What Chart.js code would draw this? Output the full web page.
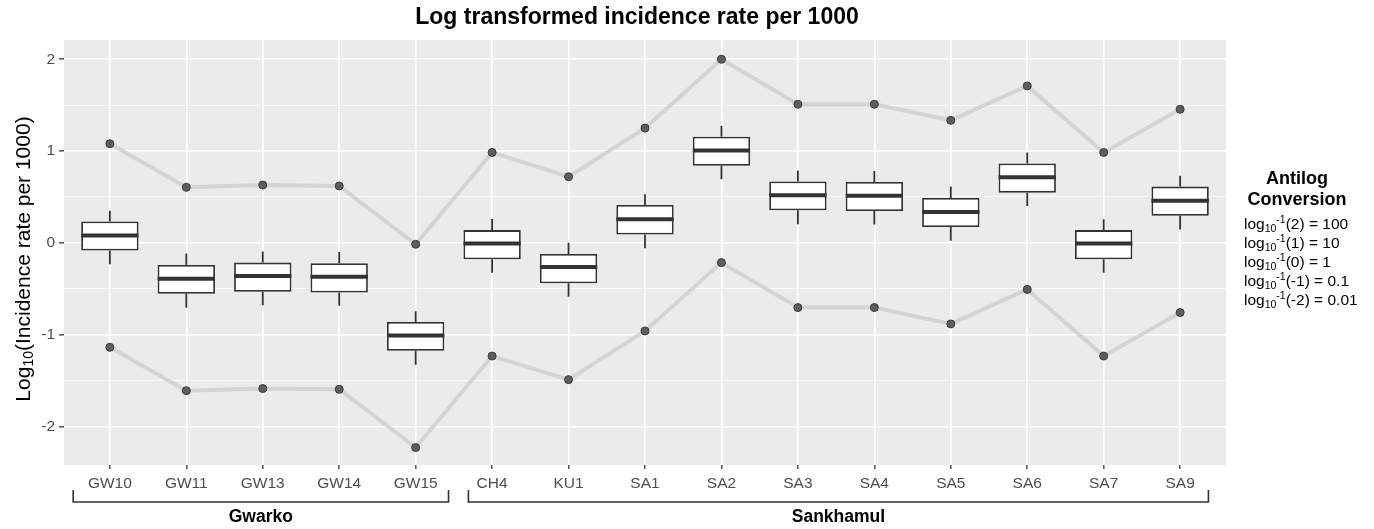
<!DOCTYPE html>
<html>
<head>
<meta charset="utf-8">
<script src="https://cdn.jsdelivr.net/npm/chart.js@4.4.0/dist/chart.umd.min.js"></script>
<style>
  body { margin: 0; background: #fff; }
  #wrap { width: 1374px; height: 529px; position: relative; }
</style>
</head>
<body>
<div id="wrap"><canvas id="boxChart"></canvas></div>
<script>
const cats = ['GW10', 'GW11', 'GW13', 'GW14', 'GW15', 'CH4', 'KU1', 'SA1', 'SA2', 'SA3', 'SA4', 'SA5', 'SA6', 'SA7', 'SA9'];

// grey lines with points (upper / lower)
const upperLine = [1.08, 0.605, 0.63, 0.62, -0.015, 0.985, 0.72, 1.25, 2.0, 1.51, 1.51, 1.335, 1.71, 0.985, 1.455];
const lowerLine = [-1.138, -1.61, -1.587, -1.595, -2.23, -1.233, -1.49, -0.96, -0.215, -0.705, -0.705, -0.883, -0.507, -1.233, -0.759];

// boxplot stats
const whiskerHigh = [0.35, -0.117, -0.095, -0.10, -0.744, 0.259, 0.0, 0.529, 1.277, 0.788, 0.784, 0.613, 0.985, 0.256, 0.73];
const q3 = [0.233, -0.24, -0.215, -0.222, -0.861, 0.139, -0.12, 0.412, 1.157, 0.668, 0.664, 0.489, 0.865, 0.139, 0.613];
const median = [0.08, -0.39, -0.361, -0.369, -1.01, -0.007, -0.263, 0.256, 1.007, 0.518, 0.514, 0.336, 0.715, -0.007, 0.46];
const q1 = [-0.084, -0.555, -0.533, -0.54, -1.175, -0.178, -0.44, 0.091, 0.839, 0.354, 0.347, 0.172, 0.547, -0.178, 0.296];
const whiskerLow = [-0.233, -0.708, -0.679, -0.686, -1.328, -0.325, -0.587, -0.058, 0.693, 0.204, 0.2, 0.022, 0.401, -0.325, 0.146];

const yTicks = [-2, -1.5, -1, -0.5, 0, 0.5, 1, 1.5, 2];

const groupNames = ['Gwarko', 'Sankhamul'];
const groupFrom = [-0.48, 4.69];
const groupTo = [4.43, 14.37];

const antilogExp = ['2', '1', '0', '-1', '-2'];
const antilogVal = ['100', '10', '1', '0.1', '0.01'];

const titleText = 'Log transformed incidence rate per 1000';

const FONT = '"Liberation Sans", Arial, sans-serif';

function drawRich(ctx, parts, x, y) {
    // parts drawn left to right from x, vertically around y
    let cx = x;
    for (const p of parts) {
        ctx.font = (p.bold ? 'bold ' : '') + p.size + 'px ' + FONT;
        ctx.fillText(p.t, cx, y + (p.dy || 0));
        cx += ctx.measureText(p.t).width;
    }
}

function richWidth(ctx, parts) {
    let w = 0;
    for (const p of parts) {
        ctx.font = (p.bold ? 'bold ' : '') + p.size + 'px ' + FONT;
        w += ctx.measureText(p.t).width;
    }
    return w;
}

const panelBg = {
    id: 'panelBg',
    beforeDraw(chart) {
        const { ctx, chartArea } = chart;
        ctx.save();
        ctx.fillStyle = '#EBEBEB';
        ctx.fillRect(chartArea.left, chartArea.top, chartArea.right - chartArea.left, chartArea.bottom - chartArea.top);
        ctx.restore();
    }
};

const boxParts = {
    id: 'boxParts',
    afterDatasetsDraw(chart) {
        const ctx = chart.ctx;
        const xs = chart.scales.x;
        const ys = chart.scales.y;
        const bars = chart.getDatasetMeta(0).data;
        ctx.save();
        ctx.strokeStyle = '#333333';
        for (let i = 0; i < cats.length; i++) {
            const x = xs.getPixelForValue(i);
            const half = bars[i].width / 2;
            ctx.lineWidth = 1.8;
            ctx.beginPath();
            ctx.moveTo(x, ys.getPixelForValue(whiskerHigh[i]));
            ctx.lineTo(x, ys.getPixelForValue(q3[i]));
            ctx.moveTo(x, ys.getPixelForValue(q1[i]));
            ctx.lineTo(x, ys.getPixelForValue(whiskerLow[i]));
            ctx.stroke();
            ctx.lineWidth = 4;
            ctx.beginPath();
            const my = ys.getPixelForValue(median[i]);
            ctx.moveTo(x - half, my);
            ctx.lineTo(x + half, my);
            ctx.stroke();
        }
        ctx.restore();
    }
};

const extras = {
    id: 'extras',
    afterDraw(chart) {
        const ctx = chart.ctx;
        const area = chart.chartArea;
        const xs = chart.scales.x;
        ctx.save();

        // title
        ctx.fillStyle = '#000';
        ctx.textBaseline = 'middle';
        ctx.textAlign = 'center';
        ctx.font = 'bold 23px ' + FONT;
        ctx.fillText(titleText, 637, 18);

        // y axis title with subscript
        ctx.textAlign = 'left';
        const yTitle = [
            { t: 'Log', size: 21 },
            { t: '10', size: 14, dy: 5 },
            { t: '(Incidence rate per 1000)', size: 21 }
        ];
        ctx.translate(24, 259);
        ctx.rotate(-Math.PI / 2);
        drawRich(ctx, yTitle, -richWidth(ctx, yTitle) / 2, 0);
        ctx.setTransform(1, 0, 0, 1, 0, 0);

        // group brackets
        ctx.strokeStyle = '#333';
        ctx.lineWidth = 1.6;
        const bTop = area.bottom + 25, bBot = area.bottom + 37;
        ctx.textAlign = 'center';
        for (let g = 0; g < groupNames.length; g++) {
            const x0 = xs.getPixelForValue(groupFrom[g]);
            const x1 = xs.getPixelForValue(groupTo[g]);
            ctx.beginPath();
            ctx.moveTo(x0, bTop);
            ctx.lineTo(x0, bBot);
            ctx.lineTo(x1, bBot);
            ctx.lineTo(x1, bTop);
            ctx.stroke();
            ctx.font = 'bold 17.5px ' + FONT;
            ctx.fillText(groupNames[g], (x0 + x1) / 2, area.bottom + 52);
        }

        // antilog note on the right
        const cx = area.right + 71;
        ctx.font = 'bold 18px ' + FONT;
        ctx.fillText('Antilog', cx, 179);
        ctx.fillText('Conversion', cx, 200);
        ctx.textAlign = 'left';
        for (let k = 0; k < antilogExp.length; k++) {
            const parts = [
                { t: 'log', size: 15.5 },
                { t: '10', size: 10.5, dy: 4 },
                { t: '-1', size: 10.5, dy: -5 },
                { t: '(' + antilogExp[k] + ') = ' + antilogVal[k], size: 15.5 }
            ];
            drawRich(ctx, parts, area.right + 18, 225 + k * 19);
        }
        ctx.restore();
    }
};

const ctx = document.getElementById('boxChart').getContext('2d');
const chart = new Chart(ctx, {
    type: 'bar',
    data: {
        datasets: [{
            type: 'bar',
            label: 'box',
            data: cats.map((c, i) => ({ x: i, y: [q1[i], q3[i]] })),
            backgroundColor: '#FFFFFF',
            borderColor: '#333333',
            borderWidth: 1.8,
            borderSkipped: false,
            barPercentage: 0.75,
            categoryPercentage: 1,
            order: 0
        }, {
            type: 'line',
            label: 'upper',
            data: cats.map((c, i) => ({ x: i, y: upperLine[i] })),
            borderColor: '#D4D4D4',
            borderWidth: 4,
            pointRadius: 4,
            pointBackgroundColor: '#5E5E5E',
            pointBorderColor: '#3A3A3A',
            pointBorderWidth: 1,
            order: 1
        }, {
            type: 'line',
            label: 'lower',
            data: cats.map((c, i) => ({ x: i, y: lowerLine[i] })),
            borderColor: '#D4D4D4',
            borderWidth: 4,
            pointRadius: 4,
            pointBackgroundColor: '#5E5E5E',
            pointBorderColor: '#3A3A3A',
            pointBorderWidth: 1,
            order: 1
        }]
    },
    options: {
        responsive: true,
        maintainAspectRatio: false,
        animation: false,
        layout: {
            padding: { left: 0, right: 148, top: 40, bottom: 0 }
        },
        plugins: {
            legend: { display: false },
            tooltip: { enabled: false },
            title: { display: false }
        },
        scales: {
            x: {
                type: 'linear',
                min: -0.6,
                max: 14.6,
                offset: false,
                afterBuildTicks: scale => { scale.ticks = cats.map((c, i) => ({ value: i })); },
                afterFit: scale => { scale.height = 64; },
                border: { display: false },
                grid: {
                    offset: false,
                    color: '#FFFFFF',
                    lineWidth: 1.6,
                    tickLength: 4,
                    tickColor: '#444',
                    tickWidth: 1.4
                },
                ticks: {
                    autoSkip: false,
                    maxRotation: 0,
                    padding: 5,
                    color: '#4D4D4D',
                    font: { family: FONT, size: 15.5 },
                    callback: v => cats[v]
                }
            },
            y: {
                min: -2.42,
                max: 2.21,
                afterBuildTicks: scale => { scale.ticks = yTicks.map(v => ({ value: v })); },
                afterFit: scale => { scale.width = 64; },
                border: { display: false },
                grid: {
                    color: '#FFFFFF',
                    lineWidth: c => (c.tick && c.tick.value % 1 !== 0) ? 0.8 : 1.6,
                    tickLength: 5,
                    tickColor: c => (c.tick && c.tick.value % 1 !== 0) ? 'rgba(0,0,0,0)' : '#444',
                    tickWidth: 1.4
                },
                ticks: {
                    autoSkip: false,
                    padding: 4,
                    color: '#4D4D4D',
                    font: { family: FONT, size: 15.5 },
                    callback: v => (v % 1 === 0 ? String(v) : '')
                }
            }
        }
    },
    plugins: [panelBg, boxParts, extras]
});
</script>
</body>
</html>
